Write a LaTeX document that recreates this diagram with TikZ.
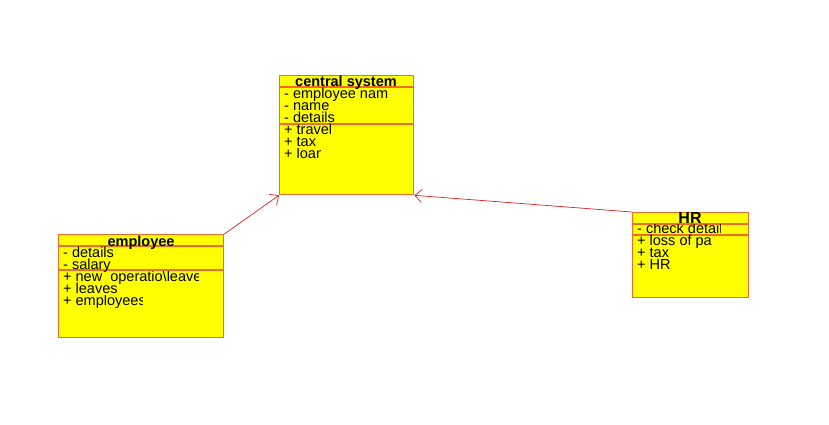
\documentclass[tikz,border=0pt]{standalone}
\usepackage{fontspec}
\setmainfont{Liberation Sans}
\usetikzlibrary{arrows.meta}
\definecolor{boxfill}{RGB}{255,255,0}
\definecolor{boxline}{RGB}{236,108,40}
\definecolor{linkred}{RGB}{224,32,32}
\begin{document}
\begin{tikzpicture}[x=1pt,y=-1pt,
  classbox/.style={draw=boxline,fill=boxfill,line width=1.3pt,inner sep=0pt,anchor=north west},
  divider/.style={draw=boxline,line width=1.3pt},
  item/.style={anchor=base west,inner sep=0pt,font=\fontsize{14.5}{12}\selectfont},
  ctitle/.style={anchor=base,inner sep=0pt,font=\fontsize{14.5}{14}\selectfont\bfseries},
  link/.style={draw=linkred,line width=0.7pt,-{Straight Barb[length=7pt,width=13pt]}}]
\useasboundingbox (0,0) rectangle (829,424);
% central system
\node[classbox,minimum width=134pt,minimum height=119pt] (cs) at (279,75) {};
\draw[divider] (279,87) -- (413,87);
\draw[divider] (279,124) -- (413,124);
\node[ctitle] (cst) at (346,86.5) {central system};
\node[item] (cs1) at (284,98.5) {- employee nam};
\node[item] (cs2) at (284,110.5) {- name};
\node[item] (cs3) at (284,122.5) {- details};
\node[item] (cs4) at (284,134.5) {+ travel};
\node[item] (cs5) at (284,146.5) {+ tax};
\begin{scope}
\clip (280,148) rectangle (320,162);
\node[item] (cs6) at (284,158.5) {+ loan};
\end{scope}
% employee
\node[classbox,minimum width=165pt,minimum height=103pt] (emp) at (58,234) {};
\draw[divider] (58,246) -- (223,246);
\draw[divider] (58,270) -- (223,270);
\node[ctitle] (empt) at (141,246) {employee};
\node[item] (e1) at (63,257.5) {- details};
\node[item] (e2) at (63,269.5) {- salary};
\begin{scope}
\clip (59,271) rectangle (198,285);
\node[item] (e3) at (63,281.5) {+ new\ \ operatio\textbackslash leave};
\end{scope}
\node[item] (e4) at (63,293.5) {+ leaves};
\begin{scope}
\clip (59,295) rectangle (142,309);
\node[item] (e5) at (63,305.5) {+ employees};
\end{scope}
% HR
\node[classbox,minimum width=116pt,minimum height=85pt] (hr) at (632,212) {};
\draw[divider] (632,224) -- (748,224);
\draw[divider] (632,235) -- (748,235);
\node[ctitle,font=\fontsize{16}{16}\selectfont\bfseries] (hrt) at (690,223.5) {HR};
\begin{scope}
\clip (633,224) rectangle (720,237);
\node[item] (h1) at (637,233.5) {- check details};
\end{scope}
\node[item] (h2) at (637,245.5) {+ loss of pa};
\node[item] (h3) at (637,257.5) {+ tax};
\node[item] (h4) at (637,269.5) {+ HR};
% links
\draw[link] (emp.north east) -- (cs.south west);
\draw[link] (hr.north west) -- (cs.south east);
\end{tikzpicture}
\end{document}
